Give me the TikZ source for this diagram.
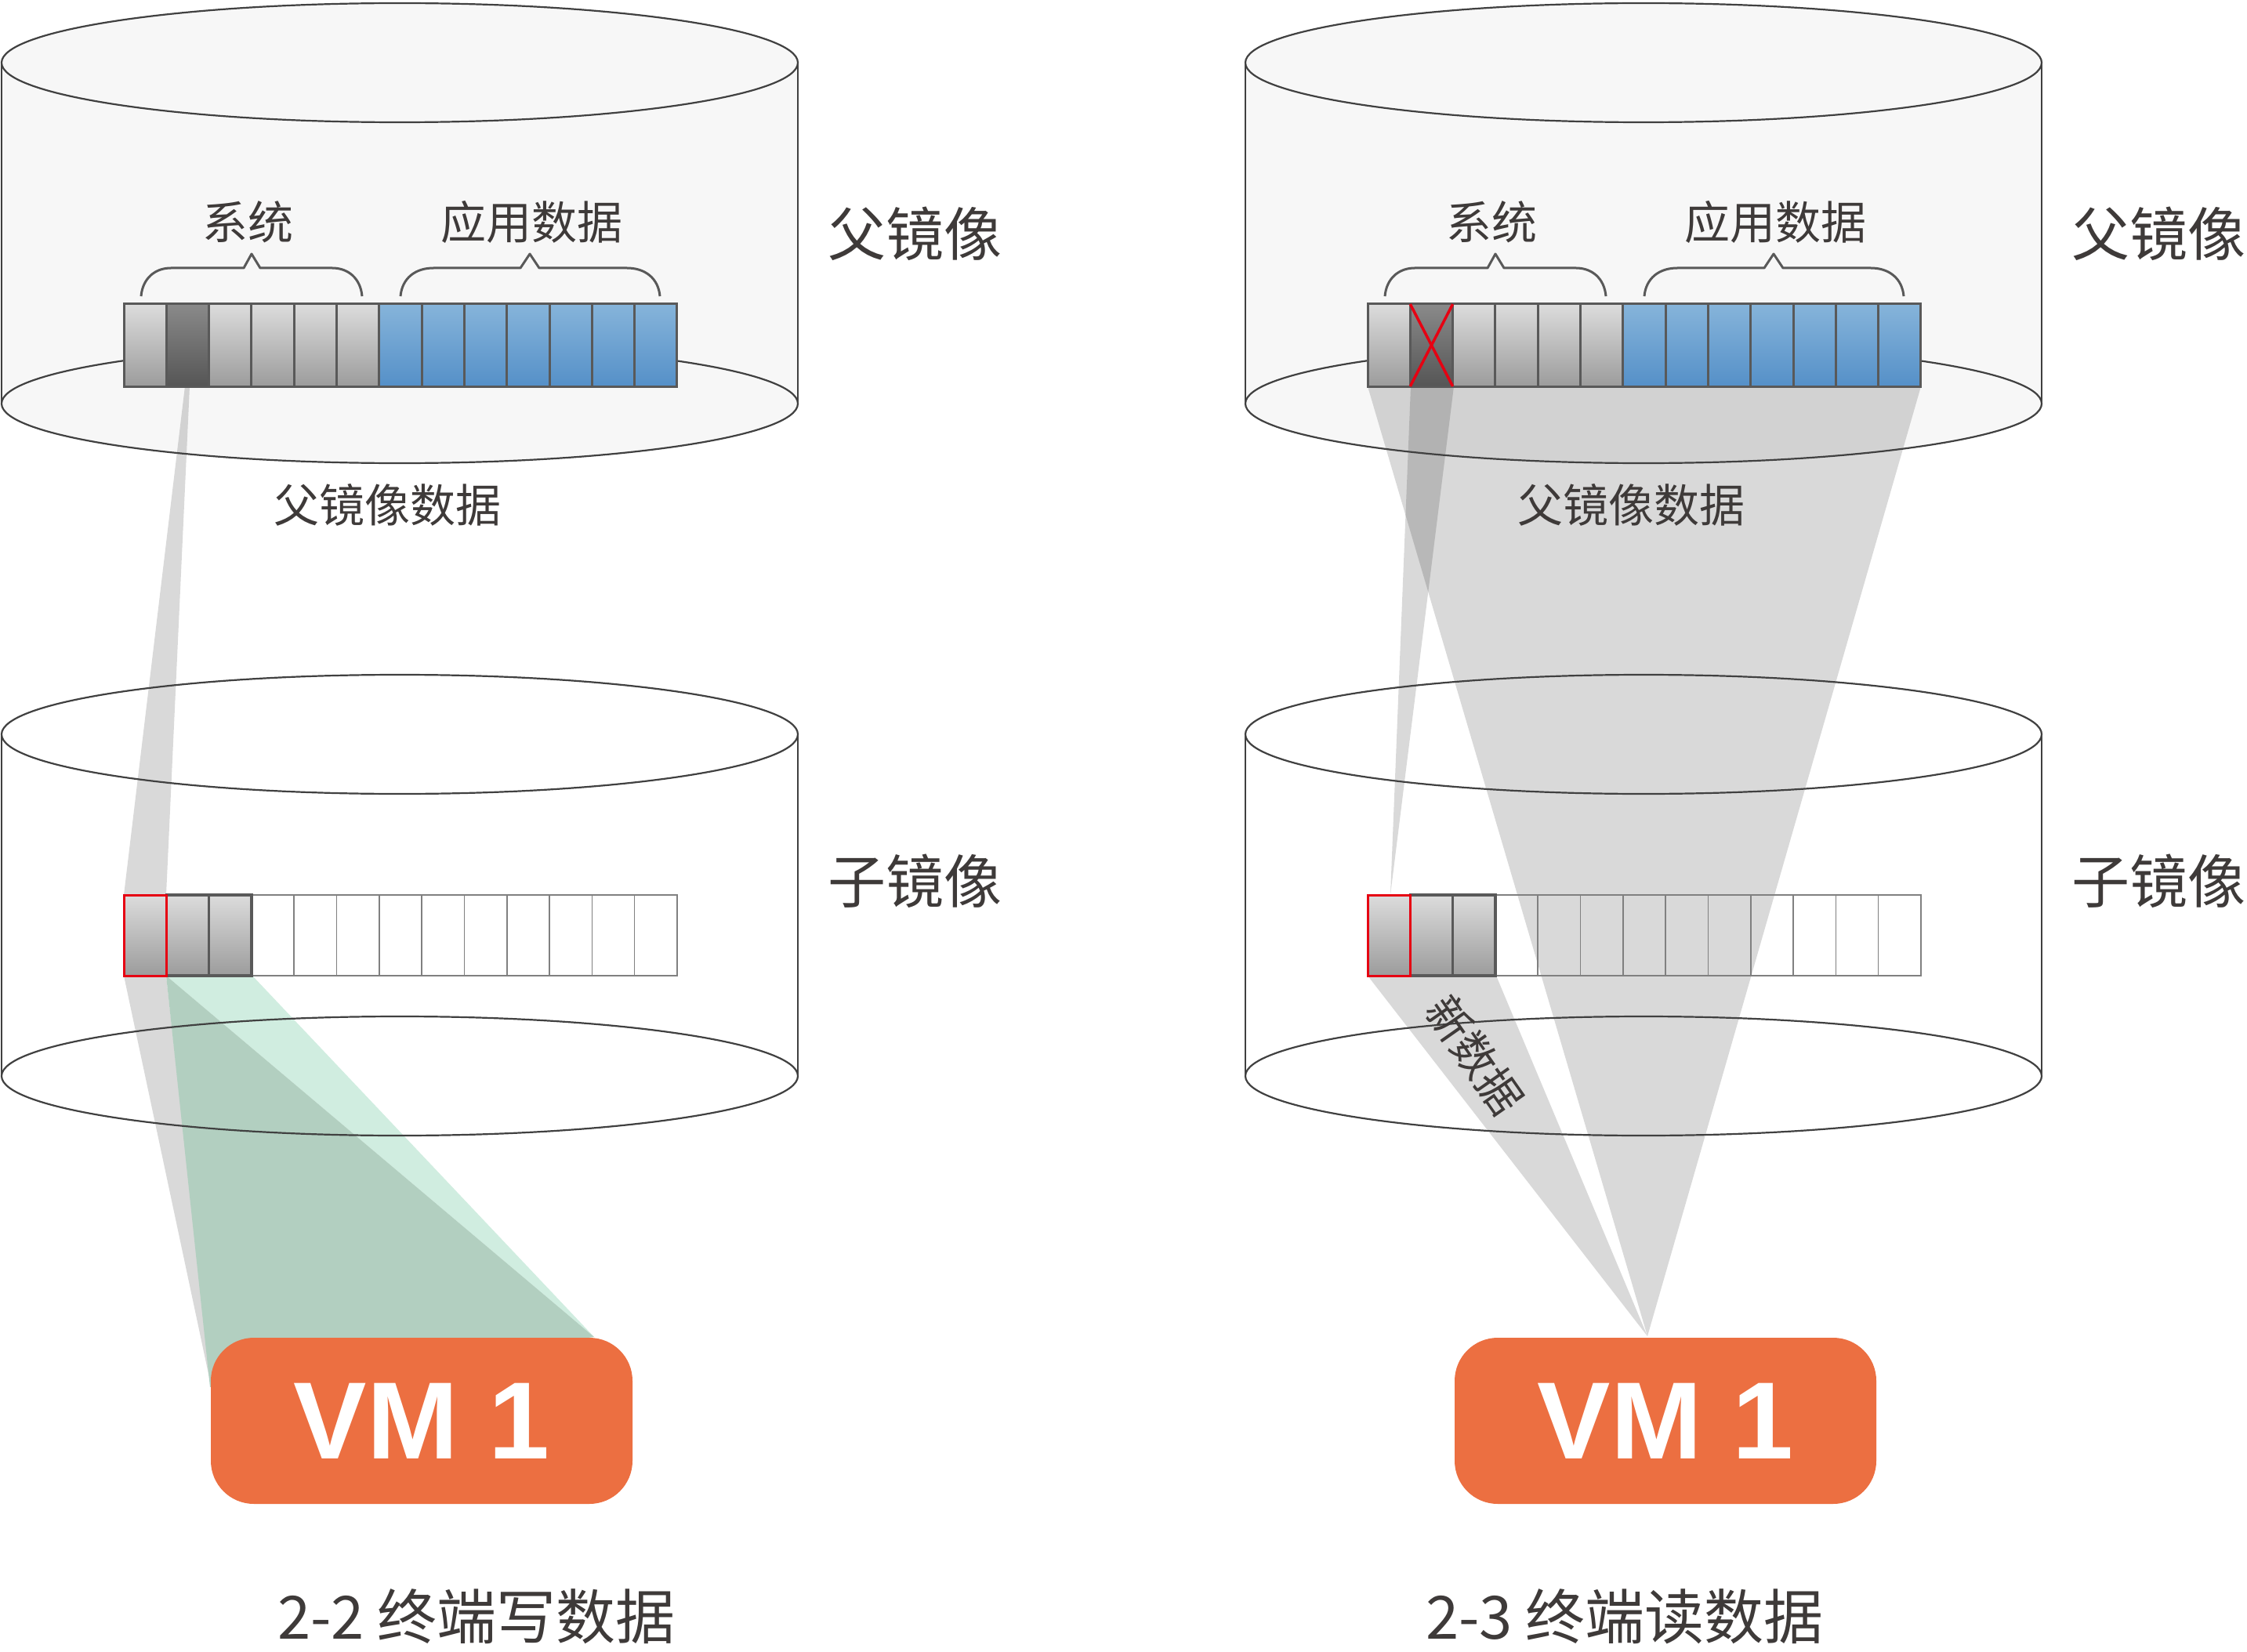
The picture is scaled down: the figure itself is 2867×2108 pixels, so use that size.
\documentclass[tikz,border=0pt]{standalone}
\usepackage{fontspec}
\newfontfamily\cjk{Noto Sans CJK SC}
\newfontfamily\vmfont{Liberation Sans}
\definecolor{txt}{HTML}{3E3A39}
\definecolor{linec}{HTML}{404040}
\definecolor{barline}{HTML}{595959}
\definecolor{cellgray}{HTML}{808080}
\definecolor{cylfill}{HTML}{F7F7F7}
\definecolor{vmorange}{HTML}{EC6F41}
\definecolor{redx}{HTML}{E60012}
\definecolor{greenlight}{HTML}{D0EDE0}
\definecolor{greendark}{HTML}{B2CFC0}
\definecolor{graytop}{HTML}{DCDCDC}
\definecolor{graybot}{HTML}{9C9C9C}
\definecolor{darktop}{HTML}{8A8A8A}
\definecolor{darkbot}{HTML}{555555}
\definecolor{bluetop}{HTML}{86B4DA}
\definecolor{bluebot}{HTML}{5590C8}
\tikzset{
  cylline/.style={draw=linec, line width=2.2pt},
  barframe/.style={draw=barline, line width=3pt},
  cellthin/.style={draw=cellgray, line width=1.6pt},
  beam/.style={fill=black, fill opacity=0.15},
  bracestyle/.style={draw=barline, line width=3pt, line join=round},
  lbl/.style={inner sep=0pt, text=txt},
  midfont/.style={font=\cjk\fontsize{58}{62}\selectfont},
  bigfont/.style={font=\cjk\fontsize{74}{80}\selectfont},
  capfont/.style={font=\cjk\fontsize{76}{80}\selectfont},
  newfont/.style={font=\cjk\fontsize{56}{60}\selectfont},
  vmbox/.style={fill=vmorange, rounded corners=55pt, minimum width=538pt, minimum height=212pt, inner sep=0pt, text=white, font=\vmfont\bfseries\fontsize{140}{140}\selectfont},
}
\newcommand\cylfills{%
  \fill[cylfill] (2,80) rectangle (1018,515);
  \fill[cylfill] (510,80) ellipse [x radius=508pt, y radius=76pt];
  \fill[cylfill] (510,515) ellipse [x radius=508pt, y radius=76pt];
}
\newcommand\cyllines{%
  \draw[cylline] (510,80) ellipse [x radius=508pt, y radius=76pt];
  \draw[cylline] (510,515) ellipse [x radius=508pt, y radius=76pt];
  \draw[cylline] (2,80) -- (2,515);
  \draw[cylline] (1018,80) -- (1018,515);
  \draw[cylline] (510,937) ellipse [x radius=508pt, y radius=76pt];
  \draw[cylline] (510,1373) ellipse [x radius=508pt, y radius=76pt];
  \draw[cylline] (2,937) -- (2,1373);
  \draw[cylline] (1018,937) -- (1018,1373);
}
\newcommand\parentbar{%
  \foreach \i in {0,2,3,4,5} {\shade[top color=graytop, bottom color=graybot] ({158+\i*54.3},388) rectangle ({158+(\i+1)*54.3},493);}
  \shade[top color=darktop, bottom color=darkbot] (212.3,388) rectangle (266.6,493);
  \foreach \i in {6,...,12} {\shade[top color=bluetop, bottom color=bluebot] ({158+\i*54.3},388) rectangle ({158+(\i+1)*54.3},493);}
  \foreach \i in {0,...,12} {\draw[barframe] ({158+\i*54.3},388) rectangle ({158+(\i+1)*54.3},493);}
}
\newcommand\childbar{%
  \foreach \i in {3,...,12} {\draw[cellthin] ({158+\i*54.3},1142) rectangle ({158+(\i+1)*54.3},1245);}
  \foreach \i in {0,1,2} {\shade[top color=graytop, bottom color=graybot] ({158+\i*54.3},1142) rectangle ({158+(\i+1)*54.3},1245);}
  \foreach \i in {1,2} {\draw[barframe, line width=3.5pt] ({158+\i*54.3},1142) rectangle ({158+(\i+1)*54.3},1245);}
  \draw[draw=redx, line width=3pt] (158,1142) rectangle (212.3,1245);
}
\newcommand\labelsbraces{%
  \draw[bracestyle] (180,378) .. controls (182,355) and (198,342) .. (218,342) -- (311,342) -- (321,324) -- (332,342) -- (424,342) .. controls (444,342) and (460,355) .. (462,378);
  \draw[bracestyle] (511,378) .. controls (513,355) and (530,342) .. (553,342) -- (664,342) -- (676,324) -- (688,342) -- (800,342) .. controls (823,342) and (840,355) .. (842,378);
  \node[lbl, midfont] (sys) at (316,283) {系统};
  \node[lbl, midfont] (app) at (678,283) {应用数据};
  \node[lbl, bigfont] (parent) at (1167,298) {父镜像};
  \node[lbl, bigfont] (child) at (1167,1124) {子镜像};
  \node[lbl, midfont] (pdata) at (494,644) {父镜像数据};
  \node[vmbox] (vm) at (538,1813) {VM 1};
}
\begin{document}
\begin{tikzpicture}[x=1pt, y=-1pt]
\useasboundingbox (0,0) rectangle (2867,2108);
\fill[white] (0,0) rectangle (2867,2108);
% cylinder bodies
\cylfills
\begin{scope}[xshift=1587pt]\cylfills\end{scope}
% left beams
\fill[beam] (236,493) -- (242,493) -- (212,1142) -- (212,1245) -- (270,1772) -- (158,1245) -- (158,1142) -- cycle;
\fill[greenlight] (212,1245) -- (322,1245) -- (758,1706) -- cycle;
\fill[greendark] (212,1245) -- (758,1706) -- (268,1770) -- cycle;
% right beams
\fill[beam] (1745,493) -- (2451,493) -- (2102,1705) -- cycle;
\fill[beam] (1800,493) -- (1855,493) -- (1774,1142) -- cycle;
\fill[beam] (1745,1245) -- (1909,1245) -- (2102,1705) -- cycle;
% cylinder outlines
\cyllines
\begin{scope}[xshift=1587pt]\cyllines\end{scope}
% bars
\parentbar
\childbar
\begin{scope}[xshift=1587pt]\parentbar\childbar\end{scope}
\draw[redx, line width=3.5pt] (1799.3,388) -- (1853.6,493);
\draw[redx, line width=3.5pt] (1853.6,388) -- (1799.3,493);
% labels
\labelsbraces
\begin{scope}[xshift=1587pt, name prefix=R-]\labelsbraces\end{scope}
\node[lbl, newfont, rotate=-55] (newdata) at (1882,1346) {新数据};
\node[lbl, capfont] (capL) at (608,2063) {2-2 终端写数据};
\node[lbl, capfont] (capR) at (2073,2063) {2-3 终端读数据};
\end{tikzpicture}
\end{document}
